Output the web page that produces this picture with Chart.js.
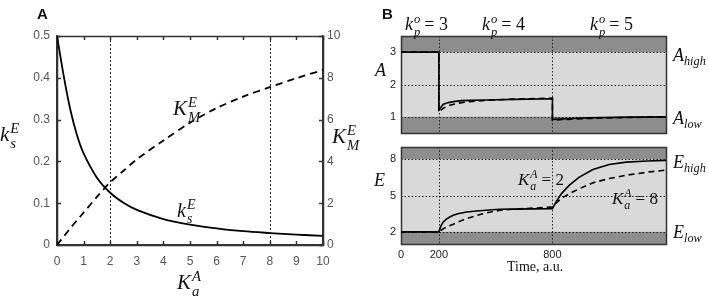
<!DOCTYPE html>
<html>
<head>
<meta charset="utf-8">
<script src="https://cdn.jsdelivr.net/npm/chart.js@4.4.1/dist/chart.umd.min.js"></script>
<style>
html, body { margin: 0; padding: 0; background: #fff; }
#wrap { position: relative; width: 709px; height: 296px; overflow: hidden; }
canvas { position: absolute; }
.m { position: absolute; font-family: "Liberation Serif", "DejaVu Serif", serif; color: #111; white-space: nowrap; line-height: 1; }
.m i { font-style: italic; }
.ss { display: inline-block; vertical-align: -0.45em; font-size: 0.7em; line-height: 1; margin-left: 1px; font-style: italic; }
.ss span { display: block; }
.m sub { font-size: 0.68em; font-style: italic; vertical-align: -0.35em; line-height: 0; }
.eq { margin-left: 4px; }
.panel { position: absolute; font-family: "Liberation Sans", Arial, sans-serif; font-weight: bold; font-size: 15px; line-height: 1; color: #111; }
</style>
</head>
<body>
<div id="wrap">
    <canvas id="chartA" width="360" height="296" style="left:0;top:0"></canvas>
    <canvas id="chartBA" width="349" height="140" style="left:360px;top:0"></canvas>
    <canvas id="chartBE" width="349" height="156" style="left:360px;top:140px"></canvas>

    <div class="panel" style="left:37px;top:6px">A</div>
    <div class="panel" style="left:382px;top:6px">B</div>

    <!-- panel A labels -->
    <div class="m" style="left:0;top:121px;font-size:21px"><i>k</i><span class="ss"><span>E</span><span>s</span></span></div>
    <div class="m" style="left:332px;top:123px;font-size:21px"><i>K</i><span class="ss"><span>E</span><span>M</span></span></div>
    <div class="m" style="left:177px;top:269px;font-size:21px"><i>K</i><span class="ss"><span>A</span><span>a</span></span></div>
    <div class="m" style="left:173px;top:95px;font-size:21px"><i>K</i><span class="ss"><span>E</span><span>M</span></span></div>
    <div class="m" style="left:177px;top:198px;font-size:20px"><i>k</i><span class="ss"><span>E</span><span>s</span></span></div>

    <!-- panel B labels -->
    <div class="m" style="left:405px;top:13px;font-size:18px"><i>k</i><span class="ss"><span>o</span><span>p</span></span><span class="eq">= 3</span></div>
    <div class="m" style="left:482px;top:13px;font-size:18px"><i>k</i><span class="ss"><span>o</span><span>p</span></span><span class="eq">= 4</span></div>
    <div class="m" style="left:590px;top:13px;font-size:18px"><i>k</i><span class="ss"><span>o</span><span>p</span></span><span class="eq">= 5</span></div>
    <div class="m" style="left:375px;top:61px;font-size:18px"><i>A</i></div>
    <div class="m" style="left:673px;top:46px;font-size:18px"><i>A</i><sub>high</sub></div>
    <div class="m" style="left:673px;top:109px;font-size:18px"><i>A</i><sub>low</sub></div>
    <div class="m" style="left:374px;top:171px;font-size:18px"><i>E</i></div>
    <div class="m" style="left:673px;top:153px;font-size:18px"><i>E</i><sub>high</sub></div>
    <div class="m" style="left:673px;top:223px;font-size:18px"><i>E</i><sub>low</sub></div>
    <div class="m" style="left:518px;top:169px;font-size:17px"><i>K</i><span class="ss"><span>A</span><span>a</span></span><span class="eq">= 2</span></div>
    <div class="m" style="left:612px;top:188px;font-size:17px"><i>K</i><span class="ss"><span>A</span><span>a</span></span><span class="eq">= 8</span></div>
    <div class="m" style="left:507px;top:260px;font-size:14px">Time, a.u.</div>
</div>

<script>
(function () {
    'use strict';

    // Panel A: rate constants vs K_a^A
    var kaValues = [0, 0.25, 0.5, 0.75, 1, 1.5, 2, 2.5, 3, 4, 5, 6, 7, 8, 9, 10];
    var ksE = [0.5, 0.405, 0.324, 0.263, 0.219, 0.161, 0.125, 0.101, 0.084, 0.062, 0.049, 0.040, 0.033, 0.0286, 0.0249, 0.0219];
    var kmE = [0, 0.4, 0.8, 1.18, 1.55, 2.3, 3.0, 3.55, 4.1, 5.0, 5.85, 6.55, 7.1, 7.55, 7.98, 8.37];
    var markersA = [2, 8];

    // Panel B: time courses
    var timeA = [0, 200, 200, 224, 250, 277, 320, 365, 450, 600, 800, 800, 900, 1000, 1200, 1400];
    var aSolid = [3, 3, 1.22, 1.39, 1.44, 1.47, 1.5, 1.51, 1.52, 1.54, 1.56, 0.92, 0.95, 0.97, 0.99, 1.0];
    var aDashed = [3, 3, 1.15, 1.27, 1.34, 1.39, 1.44, 1.47, 1.51, 1.55, 1.58, 0.9, 0.93, 0.95, 0.98, 1.0];

    var timeE = [0, 200, 210, 222, 240, 260, 276, 300, 347, 400, 433, 480, 523, 600, 700, 800,
        820, 850, 890, 940, 1014, 1100, 1190, 1300, 1400];
    var eSolid = [2, 2, 2.45, 2.8, 3.05, 3.25, 3.37, 3.5, 3.64, 3.72, 3.76, 3.82, 3.86, 3.88, 3.9, 3.92,
        4.5, 5.2, 5.85, 6.5, 7.15, 7.55, 7.75, 7.85, 7.9];
    var eDashed = [2, 2, 2.1, 2.25, 2.4, 2.53, 2.63, 2.8, 3.1, 3.35, 3.5, 3.66, 3.78, 3.88, 3.96, 4.05,
        4.4, 4.8, 5.15, 5.55, 6.05, 6.4, 6.67, 6.92, 7.1];

    var stepTimes = [200, 800];
    var aTicks = [1, 2, 3];
    var aBand = [1, 3];
    var eTicks = [2, 5, 8];
    var eBand = [2, 8];
    var timeTicks = [0, 200, 800];

    function points(xs, ys) {
        var out = [];
        for (var i = 0; i < xs.length; i++) {
            out.push({ x: xs[i], y: ys[i] });
        }
        return out;
    }

    // bands, dotted guides, frame and inward ticks, all under the lines
    function makeFrame(cfg) {
        return {
            id: 'frame',
            beforeDatasetsDraw: function (chart) {
                var ctx = chart.ctx;
                var x = chart.scales.x;
                var y = chart.scales.y;
                var L = Math.round(x.getPixelForValue(x.min));
                var R = Math.round(x.getPixelForValue(x.max));
                var T = Math.round(y.getPixelForValue(y.max));
                var B = Math.round(y.getPixelForValue(y.min));
                var len = cfg.tickLen || 0;
                ctx.save();
                if (cfg.band) {
                    ctx.fillStyle = '#8d8d8d';
                    ctx.fillRect(L, T, R - L, B - T);
                    var y1 = y.getPixelForValue(cfg.band[1]);
                    var y0 = y.getPixelForValue(cfg.band[0]);
                    ctx.fillStyle = '#d9d9d9';
                    ctx.fillRect(L, y1, R - L, y0 - y1);
                }
                ctx.strokeStyle = '#222';
                ctx.lineWidth = 1;
                ctx.setLineDash(cfg.guideDash);
                (cfg.vLines || []).forEach(function (v) {
                    var px = Math.round(x.getPixelForValue(v)) + 0.5;
                    ctx.beginPath();
                    ctx.moveTo(px, T);
                    ctx.lineTo(px, B);
                    ctx.stroke();
                });
                (cfg.hLines || []).forEach(function (v) {
                    var py = Math.round(y.getPixelForValue(v)) + 0.5;
                    ctx.beginPath();
                    ctx.moveTo(L, py);
                    ctx.lineTo(R, py);
                    ctx.stroke();
                });

                ctx.setLineDash([]);
                ctx.strokeStyle = cfg.lineColor;
                ctx.lineWidth = cfg.lineWidth;
                if (len) {
                    ['x', 'y', 'y2'].forEach(function (id) {
                        var s = chart.scales[id];
                        if (!s) {
                            return;
                        }
                        s.ticks.forEach(function (t) {
                            var p = Math.round(s.getPixelForValue(t.value)) + 0.5;
                            ctx.beginPath();
                            if (id === 'x') {
                                ctx.moveTo(p, B); ctx.lineTo(p, B - len);
                                ctx.moveTo(p, T); ctx.lineTo(p, T + len);
                            } else if (id === 'y') {
                                ctx.moveTo(L, p); ctx.lineTo(L + len, p);
                            } else {
                                ctx.moveTo(R, p); ctx.lineTo(R - len, p);
                            }
                            ctx.stroke();
                        });
                    });
                }
                ctx.beginPath();
                ctx.moveTo(L + 0.5, T + 0.5);
                ctx.lineTo(R + 0.5, T + 0.5);
                ctx.lineTo(R + 0.5, B + 0.5);
                ctx.lineTo(L + 0.5, B + 0.5);
                ctx.closePath();
                ctx.stroke();
                ctx.restore();
            }
        };
    }

    function fixed(size, horizontal) {
        return function (s) {
            if (horizontal) {
                s.height = size;
                s.paddingLeft = 0;
                s.paddingRight = 0;
            } else {
                s.width = size;
                s.paddingTop = 0;
                s.paddingBottom = 0;
            }
        };
    }

    function setTicks(list) {
        return function (s) {
            s.ticks = list.map(function (v) { return { value: v }; });
        };
    }

    var tickFontA = { family: '"Liberation Sans", Arial, sans-serif', size: 12 };
    var tickFontB = { family: '"Liberation Sans", Arial, sans-serif', size: 11 };
    var axisLineA = { display: true, color: '#333', width: 1.5 };

    new Chart(document.getElementById('chartA'), {
        type: 'line',
        data: {
            datasets: [{
                data: points(kaValues, ksE),
                yAxisID: 'y',
                borderColor: '#000',
                borderWidth: 1.8,
                pointRadius: 0,
                tension: 0.3
            }, {
                data: points(kaValues, kmE),
                yAxisID: 'y2',
                borderColor: '#000',
                borderWidth: 1.8,
                borderDash: [7, 5],
                pointRadius: 0,
                tension: 0.3
            }]
        },
        options: {
            responsive: false,
            animation: false,
            layout: { padding: { top: 36, left: 0, right: 0, bottom: 0 } },
            plugins: {
                legend: { display: false },
                tooltip: { enabled: false }
            },
            scales: {
                x: {
                    type: 'linear', min: 0, max: 10,
                    ticks: { stepSize: 1, color: '#555', font: tickFontA, padding: 9, maxRotation: 0, autoSkip: false },
                    grid: { display: false, drawTicks: false },
                    border: axisLineA,
                    afterFit: fixed(51, true)
                },
                y: {
                    position: 'left', min: 0, max: 0.5,
                    ticks: {
                        stepSize: 0.1, color: '#555', font: tickFontA, padding: 7,
                        callback: function (v) { return String(Math.round(v * 10) / 10); }
                    },
                    grid: { display: false, drawTicks: false },
                    border: axisLineA,
                    afterFit: fixed(57, false)
                },
                y2: {
                    position: 'right', min: 0, max: 10,
                    ticks: { stepSize: 2, color: '#555', font: tickFontA, padding: 4 },
                    grid: { display: false, drawTicks: false },
                    border: axisLineA,
                    afterFit: fixed(37, false)
                }
            }
        },
        plugins: [makeFrame({ vLines: markersA, guideDash: [2, 2], tickLen: 4, lineColor: '#333', lineWidth: 1.5 })]
    });

    function timeChart(id, times, solid, dashed, yMin, yMax, ticks, band, showX, xHeight, padding) {
        new Chart(document.getElementById(id), {
            type: 'line',
            data: {
                datasets: [{
                    data: points(times, dashed),
                    borderColor: '#000',
                    borderWidth: 1.6,
                    borderDash: [6, 4],
                    pointRadius: 0,
                    tension: 0
                }, {
                    data: points(times, solid),
                    borderColor: '#000',
                    borderWidth: 1.6,
                    pointRadius: 0,
                    tension: 0
                }]
            },
            options: {
                responsive: false,
                animation: false,
                layout: { padding: padding },
                plugins: {
                    legend: { display: false },
                    tooltip: { enabled: false }
                },
                scales: {
                    x: {
                        type: 'linear', min: 0, max: 1400,
                        display: showX,
                        afterBuildTicks: setTicks(timeTicks),
                        ticks: { color: '#222', font: tickFontB, padding: 4, maxRotation: 0, autoSkip: false },
                        grid: { display: false, drawTicks: false },
                        border: { display: false },
                        afterFit: fixed(xHeight, true)
                    },
                    y: {
                        min: yMin, max: yMax,
                        afterBuildTicks: setTicks(ticks),
                        ticks: { color: '#222', font: tickFontB, padding: 5 },
                        grid: { display: false, drawTicks: false },
                        border: { display: false },
                        afterFit: fixed(41, false)
                    }
                }
            },
            plugins: [makeFrame({ band: band, vLines: stepTimes, hLines: ticks, guideDash: [1.5, 2], lineColor: '#333', lineWidth: 1.5 })]
        });
    }

    timeChart('chartBA', timeA, aSolid, aDashed, 0.5, 3.5, aTicks, aBand, false, 7,
        { top: 36, right: 43, bottom: 0, left: 0 });
    timeChart('chartBE', timeE, eSolid, eDashed, 1, 9, eTicks, eBand, true, 52,
        { top: 7, right: 43, bottom: 0, left: 0 });
})();
</script>
</body>
</html>
